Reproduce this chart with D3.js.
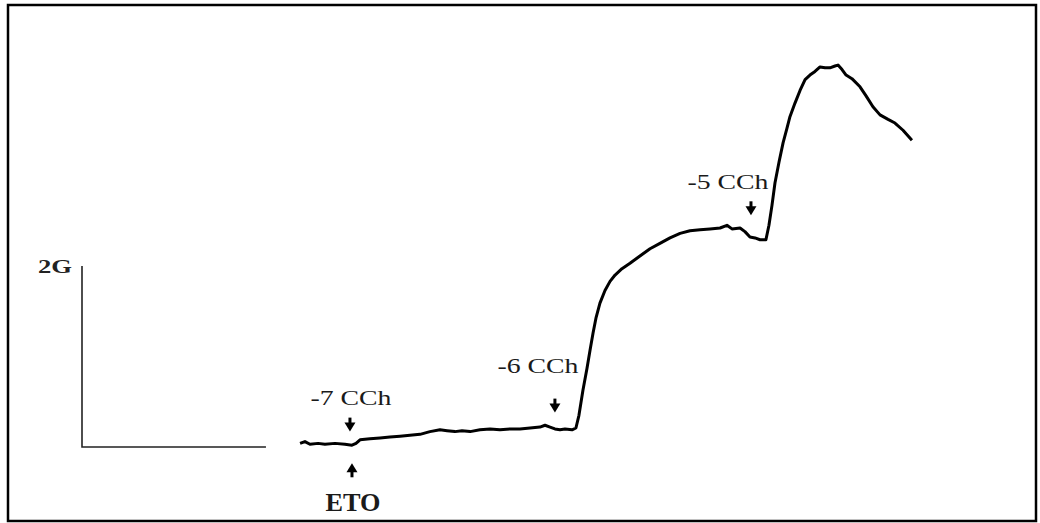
<!DOCTYPE html>
<html><head><meta charset="utf-8">
<script src="https://cdn.jsdelivr.net/npm/d3@7"></script>
<style>html,body{margin:0;padding:0;background:#fff;}svg{display:block;}</style>
</head><body>
<svg id="c" width="1040" height="523"></svg>
<script>
// ---- data ----
// time (arbitrary units) and tension (g)
const traceTime = [12.98,13.27,13.57,14.05,14.46,15.06,15.65,16.07,16.31,16.55,17.14,17.74,18.33,18.93,19.52,20.12,20.71,21.31,21.73,22.20,22.62,23.10,23.69,24.29,24.88,25.48,26.07,26.67,27.26,27.56,27.86,28.15,28.45,28.75,29.17,29.40,29.58,29.82,30.06,30.24,30.42,30.60,30.83,31.13,31.43,31.73,32.14,32.62,33.21,33.81,34.40,35.00,35.60,36.19,36.79,37.38,37.98,38.39,38.69,39.17,39.46,39.76,40.06,40.36,40.71,40.89,41.07,41.25,41.49,41.73,41.96,42.14,42.44,42.74,43.04,43.33,43.63,43.93,44.23,44.52,44.82,45.00,45.24,45.48,45.83,46.31,46.67,47.08,47.50,47.98,48.39,48.87,49.40];
const traceTension = [0.04,0.06,0.03,0.04,0.03,0.04,0.03,0.02,0.04,0.08,0.09,0.10,0.11,0.12,0.13,0.14,0.17,0.19,0.18,0.17,0.18,0.17,0.19,0.20,0.19,0.20,0.20,0.21,0.22,0.24,0.22,0.20,0.19,0.20,0.19,0.21,0.35,0.63,0.87,1.07,1.26,1.43,1.59,1.73,1.83,1.90,1.97,2.03,2.11,2.19,2.25,2.31,2.36,2.39,2.40,2.41,2.42,2.45,2.41,2.42,2.38,2.32,2.31,2.29,2.29,2.45,2.67,2.92,3.15,3.36,3.52,3.65,3.80,3.94,4.06,4.11,4.15,4.20,4.19,4.19,4.21,4.22,4.17,4.11,4.07,3.98,3.88,3.76,3.67,3.62,3.58,3.50,3.39];

const eventLabels = ["-7 CCh", "-6 CCh", "-5 CCh", "ETO"];
const eventTime   = [15.95, 28.15, 39.82, 16.07];
const eventArrowTip = [0.17, 0.38, 2.56, -0.18];
const eventDir    = ["down", "down", "down", "up"];
const labelTime   = [16.01, 27.14, 38.45, 16.13];
const labelLevel  = [0.46, 0.82, 2.85, -0.71];

const scaleBarTime = [0, 10.95];
const scaleBarTension = [0, 2];
const scaleBarLabel = "2G";

// ---- drawing ----
const svg = d3.select("#c");
const x = d3.scaleLinear().domain([0, 50]).range([82, 922]);
const y = d3.scaleLinear().domain([0, 2]).range([447, 266]);
const serif = "Liberation Serif, Times New Roman, serif";

// frame
svg.append("rect").attr("x", 8).attr("y", 5).attr("width", 1028).attr("height", 516)
  .attr("fill", "none").attr("stroke", "#000").attr("stroke-width", 2.5);

// scale bar
svg.append("path")
  .attr("d", d3.line()([[x(scaleBarTime[0]), y(scaleBarTension[1])], [x(scaleBarTime[0]), y(scaleBarTension[0])], [x(scaleBarTime[1]), y(scaleBarTension[0])]]))
  .attr("fill", "none").attr("stroke", "#222").attr("stroke-width", 1.6);
svg.append("text").attr("x", x(scaleBarTime[0]) - 10).attr("y", y(scaleBarTension[1]) + 7)
  .attr("text-anchor", "end").attr("font-family", serif)
  .attr("font-size", 19).attr("font-weight", "bold").attr("fill", "#222")
  .attr("textLength", 34).attr("lengthAdjust", "spacingAndGlyphs").text(scaleBarLabel);

// trace
const pts = traceTime.map((t, i) => [t, traceTension[i]]);
svg.append("path").datum(pts)
  .attr("d", d3.line().x(d => x(d[0])).y(d => y(d[1])))
  .attr("fill", "none").attr("stroke", "#000").attr("stroke-width", 3)
  .attr("stroke-linejoin", "round");

// arrows and labels
eventLabels.forEach((lab, i) => {
  const cx = x(eventTime[i]), tip = y(eventArrowTip[i]);
  const s = eventDir[i] === "down" ? -1 : 1;
  const head = `M${cx},${tip} L${cx-5.5},${tip + s*9} L${cx+5.5},${tip + s*9} Z`;
  svg.append("path").attr("d", head).attr("fill", "#000");
  svg.append("line").attr("x1", cx).attr("x2", cx).attr("y1", tip + s*7).attr("y2", tip + s*14)
    .attr("stroke", "#000").attr("stroke-width", 3);
  const isETO = lab === "ETO";
  svg.append("text").attr("x", x(labelTime[i])).attr("y", y(labelLevel[i]))
    .attr("text-anchor", "middle").attr("font-family", serif)
    .attr("font-size", isETO ? 25 : 21).attr("font-weight", isETO ? "bold" : "normal").attr("fill", "#1a1a1a")
    .attr("textLength", isETO ? 55 : 81).attr("lengthAdjust", "spacingAndGlyphs").text(lab);
});
</script>
</body></html>
